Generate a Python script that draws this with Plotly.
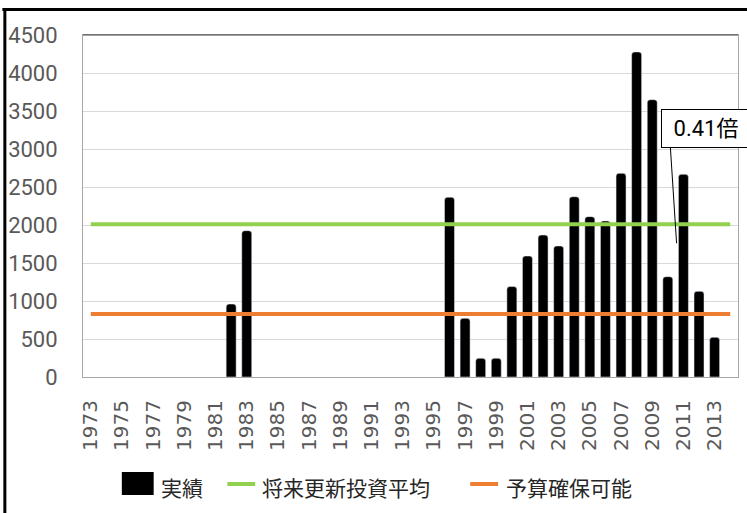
import plotly.graph_objects as go

# Fiscal years on the category axis (1973-2014)
years = [str(y) for y in range(1973, 2015)]

# Actual investment per year (None = no investment that year)
actual = {
    "1982": 960, "1983": 1925,
    "1996": 2365, "1997": 772, "1998": 246, "1999": 246,
    "2000": 1190, "2001": 1592, "2002": 1868, "2003": 1724,
    "2004": 2372, "2005": 2110, "2006": 2053, "2007": 2680,
    "2008": 4277, "2009": 3649, "2010": 1320, "2011": 2667,
    "2012": 1127, "2013": 522,
}
actual_values = [actual.get(y) for y in years]

# Reference levels
future_renewal_avg = 2010   # 将来更新投資平均
budget_available = 830      # 予算確保可能

# Labelled years and value axis ticks
tick_years = [str(y) for y in range(1973, 2014, 2)]
y_ticks = list(range(0, 4501, 500))

ratio_label = "0.41倍"
legend_names = ["実績", "将来更新投資平均", "予算確保可能"]

W, H = 747, 513
L, R, T, B = 81, 8, 35, 136
PW, PH = W - L - R, H - T - B

def px(x):
    return (x - L) / PW

def py(y):
    return (H - B - y) / PH

GREEN = "#92d050"
ORANGE = "#ed7d31"
CJK = "Noto Sans CJK JP"

fig = go.Figure()
fig.add_trace(go.Bar(
    x=years, y=actual_values, name=legend_names[0],
    marker=dict(color="black", cornerradius=3),
    showlegend=False,
))
fig.add_trace(go.Scatter(
    x=years, y=[future_renewal_avg] * len(years), name=legend_names[1],
    mode="lines", line=dict(color=GREEN, width=4), showlegend=False,
))
fig.add_trace(go.Scatter(
    x=years, y=[budget_available] * len(years), name=legend_names[2],
    mode="lines", line=dict(color=ORANGE, width=4), showlegend=False,
))

shapes = [
    # outer frame (left and top edges)
    dict(type="line", xref="paper", yref="paper", x0=px(2.5), x1=px(2.5),
         y0=py(8), y1=py(H + 5), line=dict(color="black", width=3)),
    dict(type="line", xref="paper", yref="paper", x0=px(0), x1=px(W + 5),
         y0=py(9.5), y1=py(9.5), line=dict(color="black", width=3)),
    # darker top edge of the plot area
    dict(type="line", xref="paper", yref="paper", x0=0, x1=1, y0=1, y1=1,
         line=dict(color="#404040", width=1)),
    # leader line from the ratio callout
    dict(type="line", xref="paper", yref="paper", x0=px(670.7), y0=py(141.7),
         x1=px(677.3), y1=py(243.3), line=dict(color="black", width=1)),
    # legend symbols
    dict(type="rect", xref="paper", yref="paper", x0=px(120), x1=px(152),
         y0=py(495), y1=py(472), fillcolor="black", line=dict(width=0)),
    dict(type="line", xref="paper", yref="paper", x0=px(226), x1=px(254),
         y0=py(484), y1=py(484), line=dict(color=GREEN, width=4)),
    dict(type="line", xref="paper", yref="paper", x0=px(470), x1=px(498),
         y0=py(484), y1=py(484), line=dict(color=ORANGE, width=4)),
]

annotations = [
    dict(xref="paper", yref="paper", x=px(662), y=py(109), xanchor="left",
         yanchor="top", text=ratio_label, showarrow=False, width=76,
         align="center", borderpad=6, bordercolor="black", borderwidth=1,
         bgcolor="white",
         font=dict(family="Roboto, " + CJK, size=22, color="black")),
]
for x_left, name in zip([157, 259, 504], legend_names):
    annotations.append(dict(
        xref="paper", yref="paper", x=px(x_left), y=py(487), xanchor="left",
        yanchor="middle", text=name, showarrow=False,
        font=dict(family=CJK, size=21, color="#262626"),
    ))

fig.update_layout(
    width=W, height=H,
    margin=dict(l=L, r=R, t=T, b=B),
    paper_bgcolor="white", plot_bgcolor="white",
    bargap=0.36,
    showlegend=False,
    shapes=shapes,
    annotations=annotations,
    xaxis=dict(
        type="category", categoryorder="array", categoryarray=years,
        tickmode="array", tickvals=tick_years, ticktext=tick_years,
        tickangle=-90, ticks="", ticklabelstandoff=14,
        tickfont=dict(family="DejaVu Sans", size=20, color="#595959"),
        showline=True, linecolor="#a6a6a6", linewidth=1, mirror=True,
        showgrid=False,
    ),
    yaxis=dict(
        range=[0, 4500], tickmode="array", tickvals=y_ticks,
        ticks="", ticklabelstandoff=20,
        tickfont=dict(family="Roboto", size=22, color="#595959"),
        showgrid=True, gridcolor="#d9d9d9", gridwidth=1, zeroline=False,
        showline=True, linecolor="#a6a6a6", linewidth=1, mirror=True,
    ),
)

fig.write_html("out.html")
